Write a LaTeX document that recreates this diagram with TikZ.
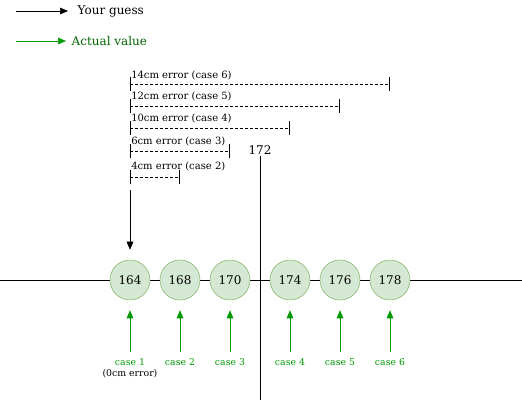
\documentclass[tikz,border=0pt]{standalone}
\usepackage{fontspec}
\setmainfont{DejaVu Serif}
\usepackage{tikz}
\usetikzlibrary{positioning,arrows.meta}
\usepackage{xcolor}
\definecolor{valfill}{HTML}{D5E8D4}
\definecolor{valdraw}{HTML}{82B366}
\definecolor{actgreen}{HTML}{009900}
\definecolor{legendgreen}{HTML}{006600}

\begin{document}
\begin{tikzpicture}[x=0.75pt,y=-0.75pt,
		value/.style={shape=circle,draw=valdraw,fill=valfill,minimum size=30pt,inner sep=0pt,font=\fontsize{9}{10}\selectfont},
		guess/.style={-{Triangle[length=6pt,width=5pt]},black,thick},
		actual/.style={-{Triangle[length=6pt,width=5pt]},actgreen,thick},
		errline/.style={dash pattern=on 2.25pt off 1.5pt,{Bar[width=10pt]}-{Bar[width=10pt]}},
		errlabel/.style={anchor=west,inner sep=0.75pt,font=\fontsize{7.5}{8}\selectfont},
		caselabel/.style={text=actgreen,inner sep=0.75pt,font=\fontsize{7}{8}\selectfont}]
		\useasboundingbox (0,0) rectangle (522,402);
		
		% legend
		\coordinate (lg1) at (16,11);
		\coordinate (lg2) at (16,41);
		\node[anchor=west,font=\fontsize{9}{10}\selectfont] (yg) at (73,11) {Your guess};
		\node[anchor=west,text=legendgreen,font=\fontsize{9}{10}\selectfont] (av) at (67,41) {Actual value};
		\draw[guess,thin,shorten >=3.75pt] (lg1) -- (yg.west);
		\draw[actual,thin,shorten >=0.75pt] (lg2) -- (av.west);
		
		% number line
		\coordinate (axl) at (0,280);
		\coordinate (axr) at (522,280);
		\draw (axl) -- (axr);
		\node[value] (n164) at (130,280) {164};
		\node[value] (n168) at (180,280) {168};
		\node[value] (n170) at (230,280) {170};
		\node[value] (n174) at (290,280) {174};
		\node[value] (n176) at (340,280) {176};
		\node[value] (n178) at (390,280) {178};
		
		% the guess
		\node[font=\fontsize{9}{10}\selectfont,inner sep=0.75pt] (t172) at (260,150) {172};
		\coordinate (b172) at (260,400);
		\draw (t172) -- (b172);
		
		% error ranges
		\coordinate (e6) at (130,84);
		\coordinate (e5) at (130,106);
		\coordinate (e4) at (130,128);
		\coordinate (e3) at (130,151);
		\coordinate (e2) at (130,177);
		\draw[errline] (e6) -- (e6 -| n178);
		\draw[errline] (e5) -- (e5 -| n176);
		\draw[errline] (e4) -- (e4 -| n174);
		\draw[errline] (e3) -- (e3 -| n170);
		\draw[errline] (e2) -- (e2 -| n168);
		\node[errlabel] at (130,75) {14cm error (case 6)};
		\node[errlabel] at (130,96) {12cm error (case 5)};
		\node[errlabel] at (130,118) {10cm error (case 4)};
		\node[errlabel] at (130,141) {6cm error (case 3)};
		\node[errlabel] at (130,166) {4cm error (case 2)};
		
		\coordinate (g0) at (130,190);
		\draw[guess,thin,shorten >=7.5pt] (g0) -- (n164);
		
		% actual values
		\node[caselabel] (c1) at (130,362) {case 1};
		\node[inner sep=0.75pt,font=\fontsize{7}{8}\selectfont] (c1e) at (130,374) {(0cm error)};
		\node[caselabel] (c2) at (180,362) {case 2};
		\node[caselabel] (c3) at (230,362) {case 3};
		\node[caselabel] (c4) at (290,362) {case 4};
		\node[caselabel] (c5) at (340,362) {case 5};
		\node[caselabel] (c6) at (390,362) {case 6};
		\path[actual,thin,shorten >=7.5pt,shorten <=4pt] (c1) edge (n164);
		\path[actual,thin,shorten >=7.5pt,shorten <=4pt] (c2) edge (n168);
		\path[actual,thin,shorten >=7.5pt,shorten <=4pt] (c3) edge (n170);
		\path[actual,thin,shorten >=7.5pt,shorten <=4pt] (c4) edge (n174);
		\path[actual,thin,shorten >=7.5pt,shorten <=4pt] (c5) edge (n176);
		\path[actual,thin,shorten >=7.5pt,shorten <=4pt] (c6) edge (n178);
\end{tikzpicture}
\end{document}
